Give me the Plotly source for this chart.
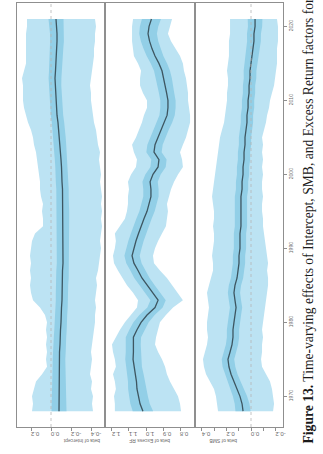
import plotly.graph_objects as go

years = list(range(1968, 2022))

# ---- beta of Intercept (left panel) ----
int_center = [-0.08, -0.08, -0.08, -0.08, -0.08, -0.08, -0.08, -0.08, -0.085, -0.09,
              -0.09, -0.095, -0.10, -0.10, -0.105, -0.11, -0.11, -0.11, -0.115, -0.115,
              -0.12, -0.12, -0.12, -0.12, -0.12, -0.12, -0.12, -0.12, -0.12, -0.115,
              -0.115, -0.11, -0.11, -0.105, -0.10, -0.095, -0.09, -0.085, -0.08, -0.07,
              -0.06, -0.055, -0.05, -0.045, -0.04, -0.04, -0.045, -0.05, -0.05, -0.055,
              -0.06, -0.06, -0.055, -0.05]
int_hi = [0.19, 0.18, 0.19, 0.17, 0.15, 0.09, 0.04, 0.05, 0.04, 0.05,
          0.04, 0.05, 0.04, 0.06, 0.11, 0.18, 0.20, 0.21, 0.20, 0.21,
          0.20, 0.21, 0.20, 0.19, 0.16, 0.08, 0.08, 0.09, 0.08, 0.10,
          0.11, 0.11, 0.12, 0.13, 0.14, 0.15, 0.17, 0.18, 0.20, 0.23,
          0.25, 0.27, 0.28, 0.28, 0.28, 0.29, 0.27, 0.25, 0.25, 0.25,
          0.25, 0.25, 0.24, 0.24]
int_lo = [-0.42, -0.41, -0.42, -0.40, -0.41, -0.39, -0.40, -0.41, -0.40, -0.41,
          -0.42, -0.43, -0.44, -0.44, -0.45, -0.44, -0.45, -0.46, -0.45, -0.47,
          -0.48, -0.49, -0.50, -0.49, -0.50, -0.51, -0.50, -0.51, -0.50, -0.51,
          -0.50, -0.49, -0.50, -0.49, -0.48, -0.49, -0.47, -0.46, -0.45, -0.43,
          -0.42, -0.41, -0.40, -0.40, -0.39, -0.40, -0.41, -0.42, -0.43, -0.43,
          -0.44, -0.44, -0.45, -0.44]
int_inner = [0.075, 0.072, 0.070, 0.068, 0.066, 0.065, 0.064, 0.063, 0.062, 0.062,
             0.062, 0.062, 0.062, 0.062, 0.062, 0.062, 0.062, 0.062, 0.062, 0.062,
             0.062, 0.062, 0.062, 0.062, 0.062, 0.062, 0.062, 0.062, 0.062, 0.062,
             0.062, 0.062, 0.062, 0.062, 0.062, 0.062, 0.062, 0.062, 0.062, 0.062,
             0.062, 0.062, 0.062, 0.062, 0.063, 0.064, 0.065, 0.066, 0.067, 0.068,
             0.069, 0.070, 0.072, 0.075]

# ---- beta of Excess RF (middle panel) ----
exc_center = [1.018, 1.035, 1.044, 1.053, 1.056, 1.062, 1.071, 1.076, 1.074, 1.076,
              1.074, 1.053, 1.029, 0.994, 0.947, 0.929, 0.959, 0.994, 1.024, 1.047,
              1.071, 1.082, 1.071, 1.059, 1.044, 1.029, 1.012, 0.994, 0.982, 0.971,
              0.971, 0.976, 0.959, 0.929, 0.924, 0.953, 0.947, 0.929, 0.912, 0.891,
              0.876, 0.871, 0.871, 0.879, 0.888, 0.894, 0.906, 0.924, 0.947, 0.965,
              0.979, 0.988, 0.982, 0.968]
exc_hi = [1.183, 1.183, 1.188, 1.177, 1.183, 1.194, 1.177, 1.183, 1.194, 1.200,
          1.177, 1.153, 1.124, 1.088, 1.053, 1.047, 1.076, 1.112, 1.141, 1.165,
          1.188, 1.194, 1.183, 1.177, 1.183, 1.153, 1.124, 1.112, 1.106, 1.106,
          1.100, 1.106, 1.088, 1.059, 1.053, 1.071, 1.082, 1.059, 1.041, 1.024,
          1.012, 0.994, 0.994, 1.018, 1.035, 1.035, 1.029, 1.047, 1.071, 1.076,
          1.082, 1.082, 1.082, 1.076]
exc_lo = [0.794, 0.800, 0.812, 0.835, 0.859, 0.877, 0.888, 0.906, 0.929, 0.947,
          0.941, 0.929, 0.918, 0.883, 0.841, 0.783, 0.812, 0.847, 0.877, 0.918,
          0.953, 0.959, 0.947, 0.929, 0.906, 0.883, 0.877, 0.871, 0.877, 0.865,
          0.853, 0.835, 0.812, 0.783, 0.788, 0.800, 0.783, 0.765, 0.753, 0.741,
          0.741, 0.747, 0.753, 0.753, 0.759, 0.765, 0.777, 0.783, 0.800, 0.824,
          0.853, 0.871, 0.859, 0.847]
exc_inner = [0.060, 0.057, 0.055, 0.052, 0.050, 0.048, 0.047, 0.046, 0.045, 0.045,
             0.045, 0.045, 0.045, 0.045, 0.045, 0.045, 0.045, 0.045, 0.045, 0.045,
             0.045, 0.045, 0.045, 0.045, 0.045, 0.045, 0.045, 0.045, 0.045, 0.045,
             0.045, 0.045, 0.045, 0.045, 0.045, 0.045, 0.045, 0.045, 0.045, 0.045,
             0.045, 0.045, 0.045, 0.045, 0.045, 0.046, 0.047, 0.048, 0.049, 0.050,
             0.051, 0.052, 0.054, 0.056]

# ---- beta of SMB (right panel) ----
smb_center = [0.065, 0.073, 0.090, 0.114, 0.139, 0.163, 0.180, 0.188, 0.171, 0.155,
              0.147, 0.147, 0.139, 0.131, 0.122, 0.131, 0.139, 0.131, 0.114, 0.106,
              0.098, 0.098, 0.090, 0.090, 0.090, 0.082, 0.082, 0.082, 0.082, 0.082,
              0.073, 0.073, 0.065, 0.065, 0.057, 0.057, 0.049, 0.049, 0.041, 0.033,
              0.033, 0.024, 0.024, 0.016, 0.016, 0.008, 0.008, 0.000, -0.008, -0.016,
              -0.024, -0.024, -0.033, -0.033]
smb_hi = [0.269, 0.278, 0.286, 0.302, 0.335, 0.367, 0.384, 0.392, 0.376, 0.359,
          0.351, 0.359, 0.359, 0.351, 0.343, 0.351, 0.359, 0.343, 0.327, 0.310,
          0.310, 0.318, 0.310, 0.302, 0.302, 0.310, 0.302, 0.302, 0.310, 0.318,
          0.310, 0.302, 0.294, 0.286, 0.278, 0.269, 0.261, 0.253, 0.237, 0.220,
          0.212, 0.204, 0.196, 0.196, 0.188, 0.188, 0.196, 0.188, 0.180, 0.180,
          0.180, 0.171, 0.171, 0.171]
smb_lo = [-0.180, -0.188, -0.180, -0.171, -0.155, -0.122, -0.090, -0.082, -0.090, -0.090,
          -0.098, -0.090, -0.098, -0.106, -0.114, -0.122, -0.131, -0.139, -0.139, -0.131,
          -0.139, -0.131, -0.122, -0.114, -0.106, -0.098, -0.098, -0.090, -0.090, -0.098,
          -0.090, -0.090, -0.098, -0.090, -0.098, -0.090, -0.098, -0.090, -0.106, -0.122,
          -0.131, -0.147, -0.155, -0.171, -0.188, -0.196, -0.204, -0.212, -0.212, -0.212,
          -0.220, -0.220, -0.220, -0.212]
smb_inner = [0.062, 0.060, 0.058, 0.056, 0.054, 0.053, 0.052, 0.051, 0.050, 0.050,
             0.050, 0.050, 0.050, 0.050, 0.050, 0.050, 0.050, 0.050, 0.050, 0.050,
             0.050, 0.050, 0.050, 0.050, 0.050, 0.050, 0.050, 0.050, 0.050, 0.050,
             0.050, 0.050, 0.050, 0.050, 0.050, 0.050, 0.050, 0.050, 0.050, 0.050,
             0.050, 0.050, 0.050, 0.050, 0.050, 0.051, 0.052, 0.053, 0.054, 0.055,
             0.056, 0.057, 0.058, 0.060]

year_ticks = [1970, 1980, 1990, 2000, 2010, 2020]

panels = [
    dict(title="beta of Intercept", c=int_center, hi=int_hi, lo=int_lo, w=int_inner,
         rng=[0.34, -0.54], tv=[0.2, 0.0, -0.2, -0.4], tt=["0.2", "0.0", "-0.2", "-0.4"], zero=True),
    dict(title="beta of Excess RF", c=exc_center, hi=exc_hi, lo=exc_lo, w=exc_inner,
         rng=[1.241, 0.712], tv=[1.2, 1.1, 1.0, 0.9, 0.8], tt=["1.2", "1.1", "1.0", "0.9", "0.8"], zero=False),
    dict(title="beta of SMB", c=smb_center, hi=smb_hi, lo=smb_lo, w=smb_inner,
         rng=[0.457, -0.261], tv=[0.4, 0.3, 0.2, 0.1, 0.0, -0.1, -0.2],
         tt=["0.4", "", "0.2", "", "0.0", "", "-0.2"], zero=True),
]

W, H = 323, 454
xdoms = [(17 / W, 105 / W), (105 / W, 195 / W), (195 / W, 283 / W)]
ydom = (1 - 427 / H, 1 - 3 / H)
yrange = [1965.86, 2023.16]

OUTER = "rgba(188,227,243,1)"
INNER = "rgba(146,207,231,1)"
LINE = "#3d5661"
FRAME = "#8f8f8f"
TXT = "#6a6a6a"

fig = go.Figure()
layout = dict(width=W, height=H, margin=dict(l=0, r=0, t=0, b=0, autoexpand=False),
              paper_bgcolor="white", plot_bgcolor="white", showlegend=False)

annotations = []
shapes = []
for i, p in enumerate(panels):
    k = "" if i == 0 else str(i + 1)
    xa, ya = "x" + k, "y" + k
    rev = years[::-1]
    fig.add_trace(go.Scatter(x=p["hi"] + p["lo"][::-1], y=years + rev, fill="toself",
                             fillcolor=OUTER, line=dict(width=0), mode="lines",
                             hoverinfo="skip", xaxis=xa, yaxis=ya))
    in_hi = [c + w for c, w in zip(p["c"], p["w"])]
    in_lo = [c - w for c, w in zip(p["c"], p["w"])]
    fig.add_trace(go.Scatter(x=in_hi + in_lo[::-1], y=years + rev, fill="toself",
                             fillcolor=INNER, line=dict(width=0), mode="lines",
                             hoverinfo="skip", xaxis=xa, yaxis=ya))
    fig.add_trace(go.Scatter(x=p["c"], y=years, mode="lines",
                             line=dict(color=LINE, width=1.3), xaxis=xa, yaxis=ya))
    if p["zero"]:
        shapes.append(dict(type="line", xref=xa, yref="paper", x0=0, x1=0,
                           y0=ydom[0], y1=ydom[1],
                           line=dict(color="#b5b5b5", width=0.8, dash="dot"), layer="above"))
    layout["xaxis" + k] = dict(domain=list(xdoms[i]), range=p["rng"], anchor=ya, automargin=False,
                               showgrid=False, zeroline=False, showline=True, mirror=True,
                               linecolor=FRAME, linewidth=1, ticks="outside", ticklen=3,
                               tickcolor=FRAME, tickwidth=0.8, tickvals=p["tv"], ticktext=p["tt"],
                               tickangle=180, tickfont=dict(size=6, color=TXT, family="Liberation Sans"))
    layout["yaxis" + k] = dict(domain=list(ydom), range=yrange, anchor=xa, automargin=False,
                               showgrid=False, zeroline=False, showline=True, mirror=True,
                               linecolor=FRAME, linewidth=1,
                               showticklabels=(i == 2), ticks=("outside" if i == 2 else ""),
                               side="right", ticklen=3, tickcolor=FRAME, tickwidth=0.8,
                               tickvals=year_ticks, tickangle=-90,
                               tickfont=dict(size=5, color=TXT, family="Liberation Sans"))
    annotations.append(dict(text=p["title"], xref="paper", yref="paper",
                            x=(xdoms[i][0] + xdoms[i][1]) / 2, y=1 - 441 / H,
                            yanchor="middle", showarrow=False, textangle=180,
                            font=dict(size=5, color=TXT, family="Liberation Sans")))

annotations.append(dict(
    text="<b>Figure 13.</b> Time-varying effects of Intercept, SMB, and Excess Return factors for",
    xref="paper", yref="paper", x=308 / W, y=1 - 446 / H, xanchor="center", yanchor="bottom",
    showarrow=False, textangle=-90,
    font=dict(size=13.6, color="#1a1a1a", family="Liberation Serif")))

layout["annotations"] = annotations
layout["shapes"] = shapes
fig.update_layout(**layout)
fig.write_html("out.html", config={"displayModeBar": False},
               post_script="document.body.style.margin='0';document.body.style.overflow='hidden';")
